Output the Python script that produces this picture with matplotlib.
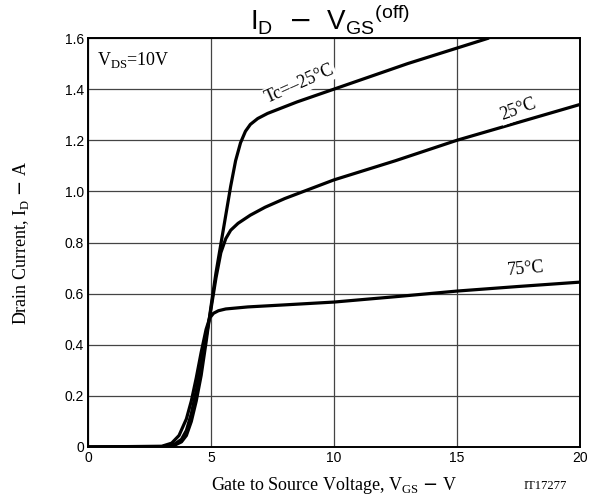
import matplotlib.pyplot as plt
import numpy as np

# (VGS in V, ID in A)
v_m25 = [0, 3.0, 3.5, 3.8, 4.0, 4.2, 4.4, 4.6, 4.8, 5.0, 5.2, 5.5, 5.8, 6.0, 6.2, 6.4, 6.6, 6.9, 7.3, 8.5, 10, 13, 16.3]
i_m25 = [0, 0.001, 0.006, 0.02, 0.045, 0.10, 0.18, 0.28, 0.41, 0.55, 0.68, 0.85, 1.02, 1.12, 1.19, 1.235, 1.262, 1.285, 1.305, 1.35, 1.40, 1.50, 1.60]

v_25 = [0, 3.0, 3.5, 3.8, 4.0, 4.2, 4.4, 4.6, 4.8, 5.0, 5.2, 5.4, 5.6, 5.8, 6.1, 6.6, 7.2, 8.0, 10, 12.5, 15, 17.5, 20]
i_25 = [0, 0.001, 0.01, 0.03, 0.065, 0.13, 0.22, 0.32, 0.43, 0.54, 0.66, 0.76, 0.815, 0.848, 0.875, 0.907, 0.938, 0.972, 1.045, 1.12, 1.20, 1.27, 1.34]

v_75 = [0, 3.0, 3.4, 3.7, 4.0, 4.2, 4.4, 4.6, 4.8, 4.95, 5.1, 5.3, 5.6, 6.5, 8.0, 10, 12.5, 15, 17.5, 20]
i_75 = [0, 0.003, 0.015, 0.045, 0.11, 0.18, 0.27, 0.37, 0.46, 0.505, 0.523, 0.533, 0.54, 0.548, 0.556, 0.567, 0.588, 0.61, 0.628, 0.645]

xticks = [0, 5, 10, 15, 20]
yticks = [0, 0.2, 0.4, 0.6, 0.8, 1.0, 1.2, 1.4, 1.6]
ytick_labels = ["0", "0.2", "0.4", "0.6", "0.8", "1.0", "1.2", "1.4", "1.6"]

serif = "Liberation Serif"
sans = "Liberation Sans"

fig = plt.figure(figsize=(6.01, 5.01), dpi=100)
ax = fig.add_axes([88 / 601, 1 - 447 / 501, 492 / 601, 409 / 501])

for v, i in [(v_m25, i_m25), (v_25, i_25), (v_75, i_75)]:
    ax.plot(v, i, color="black", lw=2.3, solid_capstyle="butt", solid_joinstyle="round", zorder=3)

ax.set_xlim(0, 20)
ax.set_ylim(0, 1.6)
ax.set_xticks(xticks)
ax.set_xticklabels([str(t) for t in xticks], fontfamily=sans, fontsize=10)
ax.set_yticks(yticks)
ax.set_yticklabels(ytick_labels, fontfamily=sans, fontsize=10)
ax.tick_params(length=0, pad=3)
ax.grid(True, color="#444444", lw=0.9)
for s in ax.spines.values():
    s.set_linewidth(1.4)

ax.set_xlabel(r"Gate to Source Voltage, V$_\mathregular{GS}$ $-$ V", fontfamily=serif, fontsize=13, labelpad=7)
ax.set_ylabel(r"Drain Current, I$_\mathregular{D}$ $-$ A", fontfamily=serif, fontsize=13, labelpad=24)
fig.text(545 / 601, 1 - 486 / 501, "IT17277", fontfamily=serif, fontsize=9, ha="center", va="center")

fig.text(330 / 601, 1 - 19 / 501, r"I$_\mathregular{D}$  $-$  V$_\mathregular{GS}$$^\mathregular{(off)}$",
         fontfamily=sans, fontsize=20, ha="center", va="center")

box = dict(facecolor="white", edgecolor="none", pad=1)
ax.text(0.35, 1.515, r"V$_\mathregular{DS}$=10V", fontfamily=serif, fontsize=13, va="center", bbox=box, zorder=4)
ax.text(8.6, 1.42, "Tc=–25°C", fontfamily=serif, fontsize=13, rotation=24, ha="center", va="center", bbox=box, zorder=4)
ax.text(17.5, 1.32, "25°C", fontfamily=serif, fontsize=13, rotation=20, ha="center", va="center", bbox=box, zorder=4)
ax.text(17.8, 0.695, "75°C", fontfamily=serif, fontsize=13, rotation=5, ha="center", va="center", zorder=4)

fig.savefig("out.png", dpi=100)
